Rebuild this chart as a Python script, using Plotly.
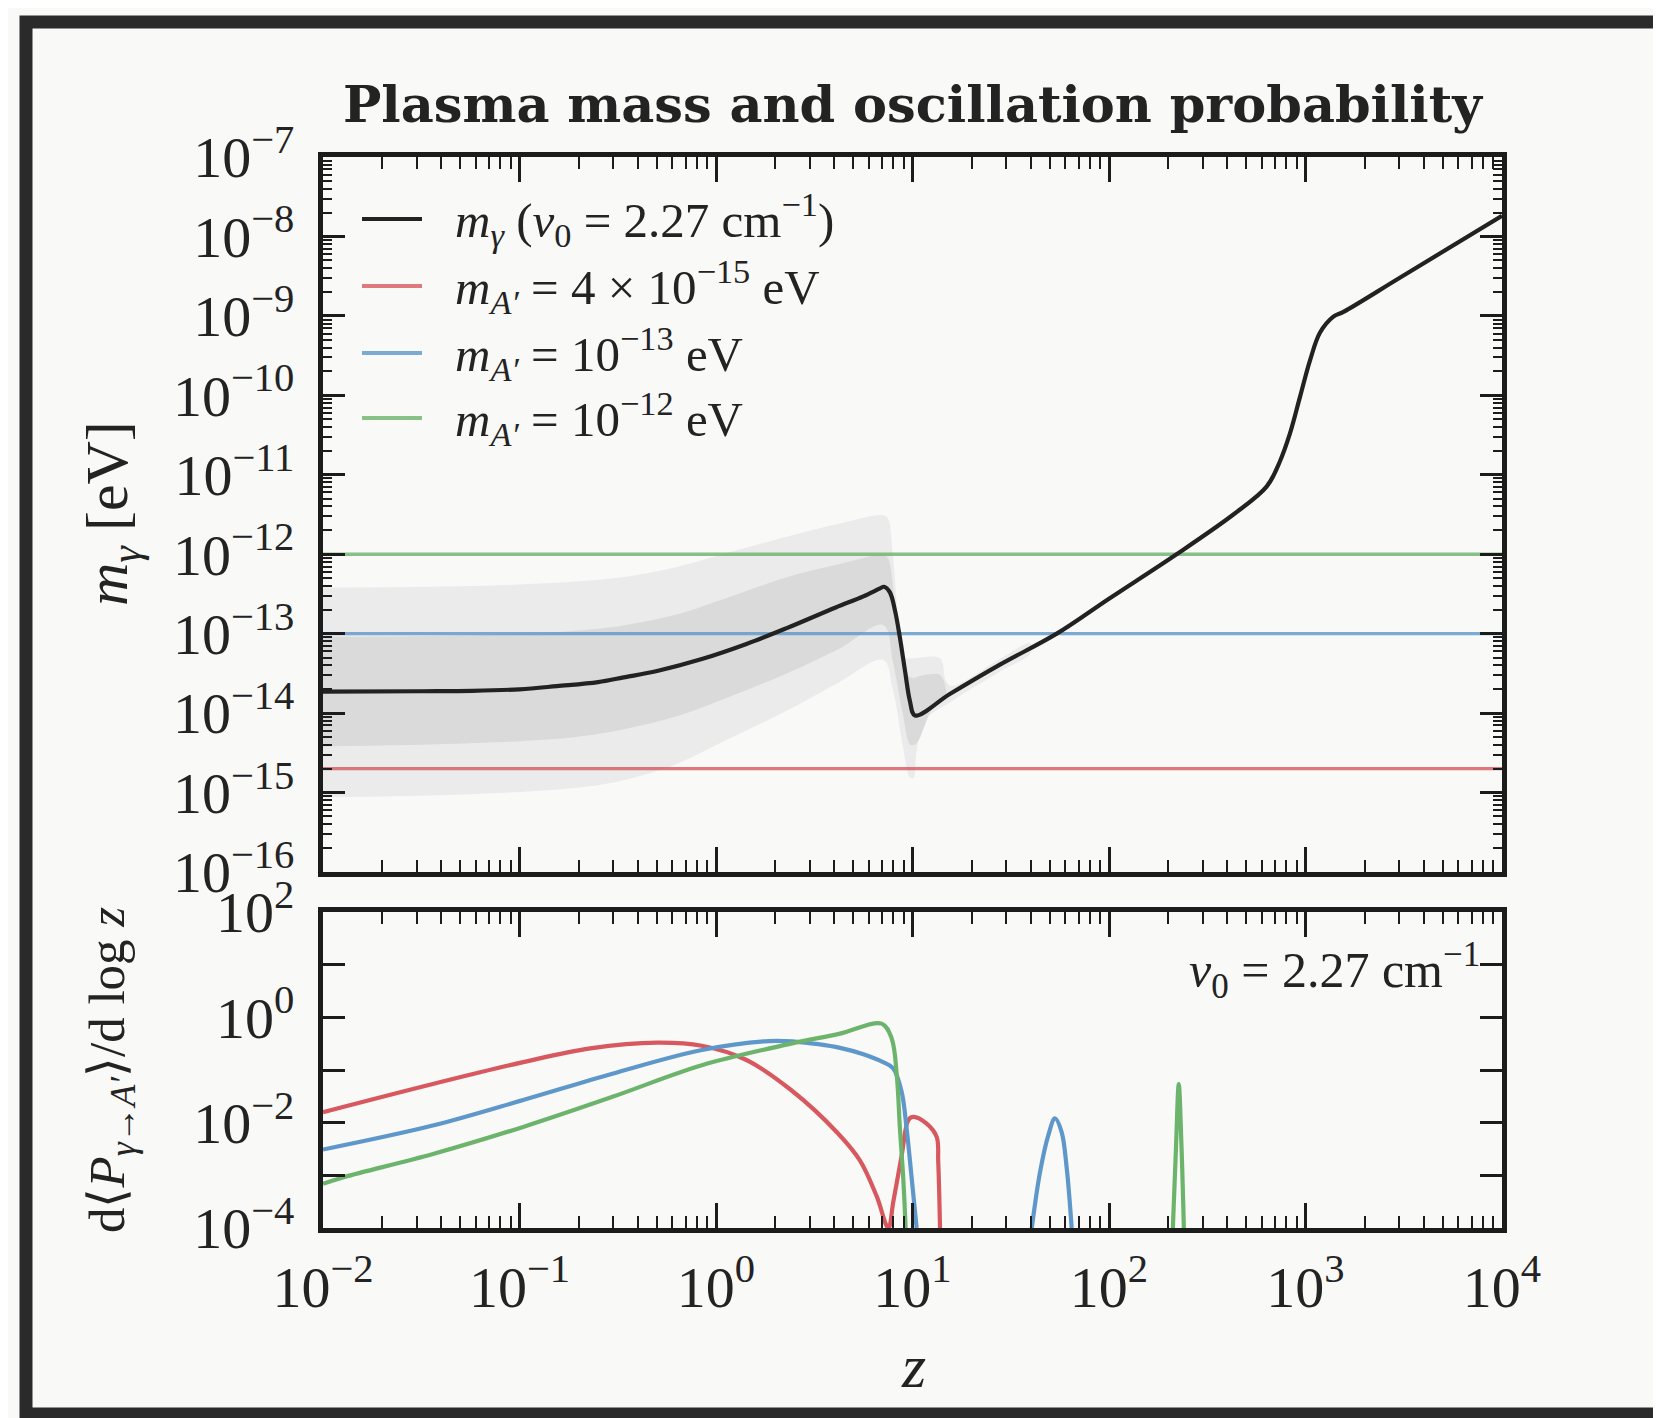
import plotly.graph_objects as go

# ---------------- data (log10 values) ----------------
# photon plasma mass m_gamma(z) for nu0 = 2.27 cm^-1
mgam_log10z = [-2.0, -1.5, -1.24, -1.0, -0.81, -0.6, -0.47, -0.3, -0.072, 0.155, 0.36, 0.609, 0.75,
               0.835, 0.855, 0.885, 0.911, 0.936, 0.962, 0.987, 1.013, 1.19, 1.445, 1.734, 2.0,
               2.344, 2.633, 2.802, 2.870, 2.921, 2.972, 3.023, 3.074, 3.142, 3.193, 3.48, 4.0]
mgam_log10m = [-13.73, -13.725, -13.72, -13.70, -13.66, -13.61, -13.55, -13.47, -13.32, -13.13, -12.93, -12.67,
               -12.53, -12.43, -12.41, -12.48, -12.71, -13.05, -13.47, -13.85, -14.03, -13.76, -13.39, -13.0,
               -12.56, -12.0, -11.50, -11.15, -10.83, -10.48, -10.02, -9.56, -9.21, -9.01, -8.95, -8.52, -7.74]

# outer (light) uncertainty band
outer_up_log10z = [-2.0, -1.25, -0.75, -0.48, -0.2, 0.02, 0.36, 0.62, 0.851, 0.875, 0.90, 0.935, 0.96, 1.0,
                   1.14, 1.17, 1.2, 1.45, 1.6]
outer_up_log10m = [-12.42, -12.40, -12.35, -12.29, -12.16, -12.01, -11.78, -11.62, -11.51, -11.55, -12.0, -13.0,
                   -13.3, -13.31, -13.31, -13.6, -13.66, -13.31, -13.12]
outer_lo_log10z = [-2.0, -1.25, -0.75, -0.48, -0.2, 0.02, 0.36, 0.62, 0.851, 0.90, 0.95, 0.985, 1.005, 1.02,
                   1.06, 1.2, 1.45, 1.6]
outer_lo_log10m = [-15.06, -15.02, -14.95, -14.85, -14.64, -14.38, -13.97, -13.62, -13.33, -13.7, -14.4, -14.8,
                   -14.82, -14.5, -14.1, -13.85, -13.47, -13.25]

# inner (darker) uncertainty band
inner_up_log10z = [-2.0, -1.25, -0.75, -0.48, -0.2, 0.02, 0.36, 0.62, 0.851, 0.875, 0.91, 0.95, 0.99, 1.06,
                   1.14, 1.17]
inner_up_log10m = [-13.04, -13.02, -12.97, -12.90, -12.76, -12.58, -12.29, -12.13, -12.01, -12.05, -12.6, -13.3,
                   -13.55, -13.52, -13.52, -13.7]
inner_lo_log10z = [-2.0, -1.25, -0.75, -0.48, -0.2, 0.02, 0.36, 0.62, 0.851, 0.90, 0.95, 0.99, 1.02, 1.1, 1.17]
inner_lo_log10m = [-14.42, -14.38, -14.31, -14.21, -14.04, -13.84, -13.50, -13.2, -12.89, -13.35, -14.0, -14.4,
                   -14.38, -13.95, -13.8]

# dark-photon masses drawn as horizontal lines [eV]
mA_red = 2.0e-15
mA_blue = 1.0e-13
mA_green = 1.0e-12

# d<P>/dlog z  (None = below the plotted range)
red_log10z = [-2.0, -1.436, -0.981, -0.64, -0.30, -0.072, 0.155, 0.382, 0.62, 0.733, 0.818, 0.877,
              0.902, 0.945, 0.979, 1.004, 1.072, 1.123, 1.131, 1.140]
red_log10p = [-1.80, -1.26, -0.85, -0.59, -0.48, -0.54, -0.81, -1.38, -2.2, -2.72, -3.4, -4.0,
              -3.51, -2.62, -1.95, -1.89, -2.02, -2.27, -2.75, -4.0]
blue_log10z = [-2.0, -1.436, -0.981, -0.527, -0.072, 0.268, 0.40, 0.52, 0.631, 0.75, 0.85, 0.902, 0.945, 0.970,
               0.996, 1.021, None, 1.607, 1.649, 1.691, 1.725, 1.759, 1.785, 1.810]
blue_log10p = [-2.51, -2.05, -1.57, -1.07, -0.62, -0.45, -0.46, -0.51, -0.58, -0.70, -0.85, -0.97, -1.42, -2.11,
               -3.06, -4.0, None, -4.0, -2.94, -2.24, -1.92, -2.18, -2.87, -4.0]
green_log10z = [-2.0, -1.89, -1.436, -0.981, -0.527, -0.072, 0.382, 0.631, 0.843, 0.894, 0.920, 0.936,
                0.953, 0.965, None, 2.325, 2.341, 2.355, 2.369, 2.381]
green_log10p = [-3.16, -3.03, -2.59, -2.08, -1.51, -0.91, -0.50, -0.31, -0.12, -0.40, -1.10, -2.11,
                -3.06, -4.0, None, -4.0, -2.46, -1.27, -2.46, -4.0]

# tick labels
top_y_exps = [-16, -15, -14, -13, -12, -11, -10, -9, -8, -7]
bot_y_exps = [-4, -3, -2, -1, 0, 1, 2]
x_exps = [-2, -1, 0, 1, 2, 3, 4]

title_text = "<b>Plasma mass and oscillation probability</b>"
legend_texts = [
    "<i>m</i><sub><i>γ</i></sub> (<i>ν</i><sub>0</sub> = 2.27 cm<sup>−1</sup>)",
    "<i>m</i><sub><i>A′</i></sub> = 4 × 10<sup>−15</sup> eV",
    "<i>m</i><sub><i>A′</i></sub> = 10<sup>−13</sup> eV",
    "<i>m</i><sub><i>A′</i></sub> = 10<sup>−12</sup> eV",
]

# ---------------- styling ----------------
OFF = 8                      # page body margin of the html file
W, H = 1661 - OFF, 1418 - OFF
ML, MR, MT, MB = 323 - OFF, 159, 157 - OFF, 190
BG = "#f9f9f8"
INK = "#232323"
FONT = "Liberation Serif"
BLACK = "#222222"
RED = "#d7585e"
BLUE = "#5e97c9"
GREEN = "#6cb46c"
LIGHT_BAND = "#ebebeb"
DARK_BAND = "#dadada"


def pw(v):
    return [None if a is None else 10 ** a for a in v]


def px2x(px):
    return (px - OFF - ML) / (W - ML - MR)


def py2y(py):
    return (H - MB - (py - OFF)) / (H - MT - MB)


def sup_label(e):
    return "10<sup>" + ("−" if e < 0 else "") + str(abs(e)) + "</sup>"


fig = go.Figure()

# bands
fig.add_trace(go.Scatter(
    x=pw(outer_up_log10z + outer_lo_log10z[::-1]), y=pw(outer_up_log10m + outer_lo_log10m[::-1]),
    mode="lines", fill="toself", fillcolor=LIGHT_BAND, line=dict(width=0, shape="spline", smoothing=1.0),
    hoverinfo="skip", showlegend=False, xaxis="x", yaxis="y"))
fig.add_trace(go.Scatter(
    x=pw(inner_up_log10z + inner_lo_log10z[::-1]), y=pw(inner_up_log10m + inner_lo_log10m[::-1]),
    mode="lines", fill="toself", fillcolor=DARK_BAND, line=dict(width=0, shape="spline", smoothing=1.0),
    hoverinfo="skip", showlegend=False, xaxis="x", yaxis="y"))

# horizontal dark-photon mass lines
for val, col in [(mA_red, RED), (mA_blue, BLUE), (mA_green, GREEN)]:
    fig.add_trace(go.Scatter(x=[1e-2, 1e4], y=[val, val], mode="lines",
                             line=dict(color=col, width=3.4), opacity=0.8,
                             showlegend=False, xaxis="x", yaxis="y"))

# photon plasma mass
fig.add_trace(go.Scatter(x=pw(mgam_log10z), y=pw(mgam_log10m), mode="lines",
                         line=dict(color=BLACK, width=4.2, shape="spline", smoothing=1.0),
                         showlegend=False, xaxis="x", yaxis="y"))

# conversion probability
for zz, pp, col in [(red_log10z, red_log10p, RED), (blue_log10z, blue_log10p, BLUE),
                    (green_log10z, green_log10p, GREEN)]:
    fig.add_trace(go.Scatter(x=pw(zz), y=pw(pp), mode="lines", connectgaps=False,
                             line=dict(color=col, width=4.2, shape="spline", smoothing=1.0),
                             showlegend=False, xaxis="x2", yaxis="y2"))


def minor_vals(exps):
    out = []
    for e in exps[:-1]:
        for d in range(2, 10):
            out.append(d * 10 ** e)
    return out


common = dict(type="log", showline=True, linewidth=5, linecolor="#1c1c1c", mirror="ticks",
              ticks="inside", tickwidth=2.6, tickcolor="#1c1c1c", showgrid=False, zeroline=False,
              tickfont=dict(family=FONT, size=58, color=INK))

fig.update_layout(
    width=W, height=H,
    margin=dict(l=ML, r=MR, t=MT, b=MB),
    paper_bgcolor=BG, plot_bgcolor=BG,
    showlegend=False,
    font=dict(family=FONT, color=INK, size=48),
    xaxis=dict(common, domain=[0, 1], anchor="y", range=[-2, 4], showticklabels=False,
               tickmode="array", tickvals=[10 ** e for e in x_exps], ticklen=25,
               minor=dict(tickmode="array", tickvals=minor_vals(x_exps), ticks="inside", ticklen=12,
                          tickwidth=2.2, tickcolor="#1c1c1c", showgrid=False)),
    yaxis=dict(common, domain=[py2y(872), 1], anchor="x", range=[-16, -7],
               tickmode="array", tickvals=[10 ** e for e in top_y_exps],
               ticktext=[sup_label(e) for e in top_y_exps], ticklen=22, ticklabelstandoff=12,
               minor=dict(tickmode="array", tickvals=minor_vals(top_y_exps), ticks="inside", ticklen=9,
                          tickwidth=2.0, tickcolor="#1c1c1c", showgrid=False)),
    xaxis2=dict(common, domain=[0, 1], anchor="y2", range=[-2, 4],
                tickmode="array", tickvals=[10 ** e for e in x_exps],
                ticktext=[sup_label(e) for e in x_exps], ticklen=25, ticklabelstandoff=4,
                minor=dict(tickmode="array", tickvals=minor_vals(x_exps), ticks="inside", ticklen=12,
                           tickwidth=2.2, tickcolor="#1c1c1c", showgrid=False)),
    yaxis2=dict(common, domain=[0, py2y(912)], anchor="x2", range=[-4, 2],
                tickmode="array", tickvals=[10 ** e for e in bot_y_exps],
                ticktext=[sup_label(e) if e % 2 == 0 else "" for e in bot_y_exps],
                ticklen=22, ticklabelstandoff=12),
)

ann = []
# title
ann.append(dict(text=title_text, x=0.5, y=py2y(104), xref="paper", yref="paper", showarrow=False,
                xanchor="center", yanchor="middle", font=dict(family="DejaVu Serif", size=51, color=INK)))
# y titles
ann.append(dict(text="<i>m</i><sub><i>γ</i></sub> [eV]", x=px2x(111), y=py2y(514), xref="paper", yref="paper",
                showarrow=False, textangle=-90, xanchor="center", yanchor="middle",
                font=dict(family=FONT, size=60, color=INK)))
ann.append(dict(text="d⟨<i>P</i><sub><i>γ</i>→<i>A′</i></sub>⟩/d log <i>z</i>", x=px2x(111), y=py2y(1070),
                xref="paper", yref="paper", showarrow=False, textangle=-90, xanchor="center", yanchor="middle",
                font=dict(family=FONT, size=51, color=INK)))
# x title
ann.append(dict(text="<i>z</i>", x=px2x(913), y=py2y(1366), xref="paper", yref="paper", showarrow=False,
                xanchor="center", yanchor="middle", font=dict(family=FONT, size=62, color=INK)))
# bottom panel label
ann.append(dict(text="<i>ν</i><sub>0</sub> = 2.27 cm<sup>−1</sup>", x=px2x(1482), y=py2y(970),
                xref="paper", yref="paper", showarrow=False, xanchor="right", yanchor="middle",
                font=dict(family=FONT, size=50, color=INK)))

# manual legend
shapes = []
rows = [219, 286, 353, 418]
legend_cols = [(BLACK, 1.0), (RED, 0.8), (BLUE, 0.8), (GREEN, 0.8)]
for (txt, (col, op), ry) in zip(legend_texts, legend_cols, rows):
    shapes.append(dict(type="line", xref="paper", yref="paper", x0=px2x(362), x1=px2x(422),
                       y0=py2y(ry), y1=py2y(ry), line=dict(color=col, width=3.8), opacity=op))
    ann.append(dict(text=txt, x=px2x(453), y=py2y(ry), xref="paper", yref="paper", showarrow=False,
                    xanchor="left", yanchor="middle", font=dict(family=FONT, size=49, color=INK)))

# rough outer frame
shapes.append(dict(type="rect", xref="paper", yref="paper", x0=px2x(26), x1=px2x(1720),
                   y0=py2y(1414), y1=py2y(22), line=dict(color="#2a2a2a", width=13), layer="above"))

fig.update_layout(annotations=ann, shapes=shapes)
fig.write_html("out.html")
